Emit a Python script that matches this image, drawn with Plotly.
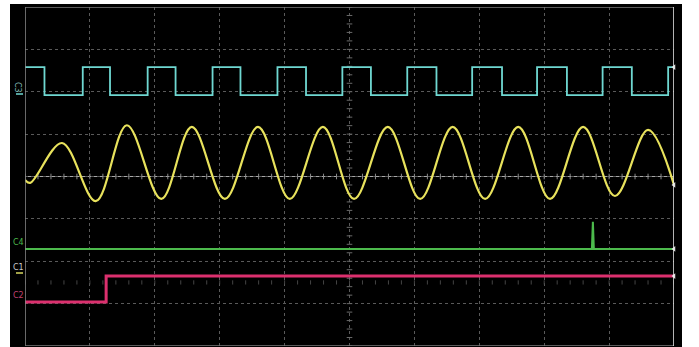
import plotly.graph_objects as go

# ---- data (in screen divisions: x 0..10, y -4..4) ----
c3_fall_x = [0.30, 1.31, 2.32, 3.32, 4.33, 5.33, 6.34, 7.35, 8.35, 9.35]
c3_rise_x = [0.89, 1.89, 2.89, 3.89, 4.89, 5.89, 6.89, 7.89, 8.90, 9.91]
c3_high = 2.58
c3_low = 1.92

c1_x = [0.00, 0.08, 0.57, 1.09, 1.57, 2.10, 2.57, 3.08, 3.59, 4.08, 4.59, 5.07,
        5.59, 6.09, 6.59, 7.09, 7.60, 8.09, 8.60, 9.09, 9.60, 10.00]
c1_y = [-0.08, -0.15, 0.79, -0.58, 1.21, -0.53, 1.17, -0.53, 1.17, -0.53, 1.17, -0.53,
        1.17, -0.53, 1.17, -0.53, 1.17, -0.53, 1.17, -0.46, 1.10, -0.20]

c4_x = [0.00, 8.735, 8.75, 8.765, 10.00]
c4_y = [-1.71, -1.71, -1.07, -1.71, -1.71]

c2_x = [0.00, 1.25, 10.00]
c2_y = [-2.96, -2.35, -2.35]

# ---- build the square-wave path from the edge lists ----
events = sorted([(x, c3_low) for x in c3_fall_x] + [(x, c3_high) for x in c3_rise_x])
sq_x, sq_y = [0.0], [c3_high]
for ex, lvl in events:
    sq_x.append(ex)
    sq_y.append(lvl)
sq_x.append(10.0)
sq_y.append(sq_y[-1])

fig = go.Figure()

# minor ticks on centre lines and tick row
tick_x = [i * 0.2 for i in range(51)]
fig.add_trace(go.Scatter(x=tick_x, y=[0] * len(tick_x), mode="markers",
                         marker=dict(symbol="line-ns-open", size=4, color="#8a8a8a",
                                     line=dict(width=1, color="#8a8a8a")),
                         hoverinfo="skip", showlegend=False))
tick_y = [i * 0.2 - 4 for i in range(41)]
fig.add_trace(go.Scatter(x=[5] * len(tick_y), y=tick_y, mode="markers",
                         marker=dict(symbol="line-ew-open", size=4, color="#6a6a6a",
                                     line=dict(width=1, color="#6a6a6a")),
                         hoverinfo="skip", showlegend=False))
fig.add_trace(go.Scatter(x=tick_x, y=[-2.5] * len(tick_x), mode="markers",
                         marker=dict(symbol="line-ns-open", size=3, color="#444444",
                                     line=dict(width=1, color="#444444")),
                         hoverinfo="skip", showlegend=False))

# traces
fig.add_trace(go.Scatter(x=sq_x, y=sq_y, mode="lines", line=dict(color="#6fd8d2", width=1.8, shape="hv"),
                         showlegend=False))
fig.add_trace(go.Scatter(x=c1_x, y=c1_y, mode="lines", line=dict(color="#e8e25c", width=2.2, shape="spline", smoothing=1.0),
                         showlegend=False))
fig.add_trace(go.Scatter(x=c4_x, y=c4_y, mode="lines", line=dict(color="#4cba4c", width=2),
                         showlegend=False))
fig.add_trace(go.Scatter(x=c2_x, y=c2_y, mode="lines", line=dict(color="#dc306e", width=3, shape="hv"),
                         showlegend=False))

# right-edge markers
fig.add_trace(go.Scatter(x=[10.0, 10.0, 10.0, 10.0], y=[c3_high, -0.2, -1.71, -2.35], mode="markers",
                         marker=dict(symbol="triangle-left", size=5, color="#e0e0e0"),
                         cliponaxis=False, showlegend=False, hoverinfo="skip"))
fig.add_trace(go.Scatter(x=[10.07], y=[-1.52], mode="markers",
                         marker=dict(symbol="triangle-left", size=6, color="#3cc03c"),
                         cliponaxis=False, showlegend=False, hoverinfo="skip"))

W, H = 699, 347
L, R, T, B = 25, 25, 7, 1
pw, ph = W - L - R, H - T - B


def px_x(p):
    return (p - L) / pw


def px_y(p):
    return (H - B - p) / ph


shapes = [
    # white surroundings
    dict(type="rect", xref="paper", yref="paper", x0=px_x(0), x1=px_x(10), y0=px_y(H + 5), y1=px_y(-5),
         fillcolor="white", line=dict(width=0), layer="below"),
    dict(type="rect", xref="paper", yref="paper", x0=px_x(682), x1=px_x(W + 5), y0=px_y(H + 5), y1=px_y(-5),
         fillcolor="white", line=dict(width=0), layer="below"),
    dict(type="rect", xref="paper", yref="paper", x0=px_x(0), x1=px_x(W + 5), y0=px_y(4), y1=px_y(-5),
         fillcolor="white", line=dict(width=0), layer="below"),
    # frame
    dict(type="line", xref="x", yref="y", x0=0, x1=0, y0=-4, y1=4, line=dict(color="#8c8c8c", width=1.5)),
    dict(type="line", xref="x", yref="y", x0=0, x1=10, y0=4, y1=4, line=dict(color="#7a7a7a", width=1.5)),
    dict(type="line", xref="x", yref="y", x0=0, x1=10, y0=-4, y1=-4, line=dict(color="#7a7a7a", width=1.5)),
    dict(type="line", xref="x", yref="y", x0=10, x1=10, y0=-4, y1=4, line=dict(color="#f0f0f0", width=1.5)),
    # centre line
    dict(type="line", xref="x", yref="y", x0=0, x1=10, y0=0, y1=0, line=dict(color="#a8a8a8", width=1), layer="below"),
    # channel ground dashes at left
    dict(type="line", xref="paper", yref="paper", x0=px_x(16), x1=px_x(23), y0=px_y(94), y1=px_y(94),
         line=dict(color="#6fd8d2", width=1.5)),
    dict(type="line", xref="paper", yref="paper", x0=px_x(16), x1=px_x(23), y0=px_y(273), y1=px_y(273),
         line=dict(color="#d8d860", width=1.5)),
]

annotations = [
    dict(text="C3", x=px_x(18), y=px_y(87), xref="paper", yref="paper", showarrow=False,
         xanchor="center", yanchor="middle",
         font=dict(size=8, color="#7fb8b4", family="DejaVu Sans"), textangle=90),
    dict(text="C4", x=px_x(18), y=px_y(242), xref="paper", yref="paper", showarrow=False,
         xanchor="center", yanchor="middle",
         font=dict(size=8, color="#4cba4c", family="DejaVu Sans")),
    dict(text="C1", x=px_x(18), y=px_y(267), xref="paper", yref="paper", showarrow=False,
         xanchor="center", yanchor="middle",
         font=dict(size=8, color="#c8c8c8", family="DejaVu Sans")),
    dict(text="C2", x=px_x(18), y=px_y(295), xref="paper", yref="paper", showarrow=False,
         xanchor="center", yanchor="middle",
         font=dict(size=8, color="#c04070", family="DejaVu Sans")),
]

fig.update_layout(
    width=W, height=H,
    margin=dict(l=L, r=R, t=T, b=B, pad=0),
    paper_bgcolor="black", plot_bgcolor="black",
    shapes=shapes, annotations=annotations,
    showlegend=False,
    xaxis=dict(range=[0, 10], dtick=1, showgrid=True, gridcolor="#5a5a5a", griddash="dot", gridwidth=1,
               showticklabels=False, zeroline=False, showline=False, ticks="", fixedrange=True),
    yaxis=dict(range=[-4, 4], dtick=1, showgrid=True, gridcolor="#5a5a5a", griddash="dot", gridwidth=1,
               showticklabels=False, zeroline=False, showline=False, ticks="", fixedrange=True),
)

fig.write_html("out.html",
               config={"displayModeBar": False},
               post_script="document.body.style.margin='0';document.body.style.overflow='hidden';")
